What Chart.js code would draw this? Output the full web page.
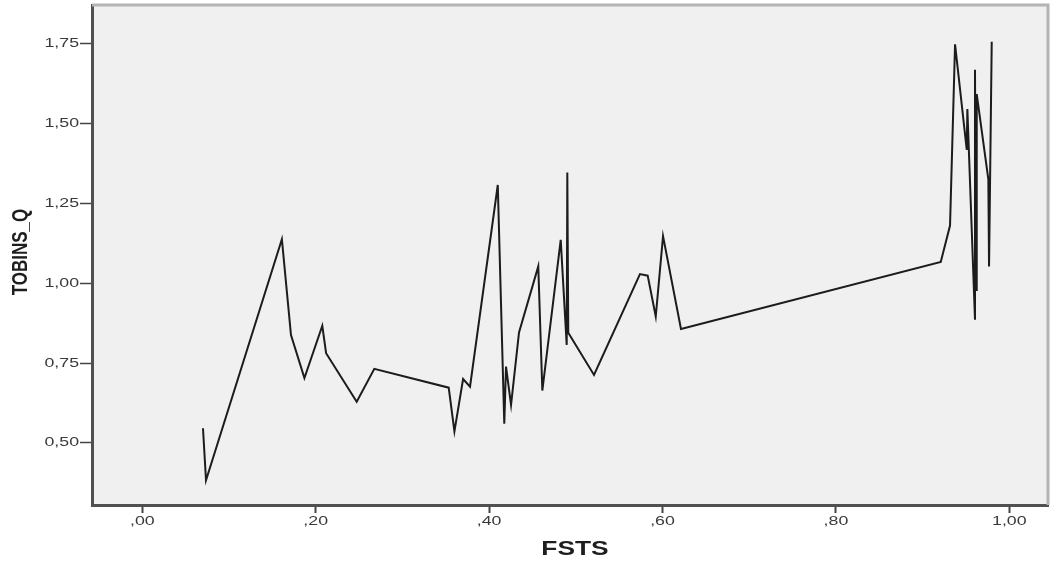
<!DOCTYPE html>
<html lang="en">
<head>
    <meta charset="UTF-8">
    <title>TOBINS_Q by FSTS</title>
    <script src="https://cdn.jsdelivr.net/npm/chart.js"></script>
    <style>
        html, body { margin: 0; padding: 0; background: #fff; }
        .chart-container { width: 1050px; height: 563px; }
    </style>
</head>
<body>
    <div class="chart-container">
        <canvas id="lineChart"></canvas>
    </div>

    <script>
        // values
        const fsts = [0.070, 0.0735, 0.161, 0.1715, 0.187, 0.2076, 0.212, 0.2473, 0.2676, 0.3534,
                      0.360, 0.370, 0.378, 0.410, 0.4175, 0.4195, 0.4253, 0.4345, 0.4567, 0.4614,
                      0.4826, 0.4895, 0.4902, 0.4913, 0.521, 0.574, 0.5829, 0.5922, 0.6006, 0.6213,
                      0.9209, 0.9316, 0.9374, 0.9509, 0.9516, 0.9604, 0.9604, 0.9616, 0.9624, 0.9758,
                      0.9766, 0.9797];
        const tobinsQ = [0.546, 0.383, 1.138, 0.838, 0.703, 0.867, 0.781, 0.629, 0.732, 0.673,
                         0.536, 0.700, 0.676, 1.308, 0.560, 0.739, 0.619, 0.846, 1.053, 0.664,
                         1.136, 0.807, 1.347, 0.845, 0.713, 1.029, 1.024, 0.896, 1.148, 0.857,
                         1.067, 1.181, 1.749, 1.418, 1.546, 0.886, 1.669, 0.979, 1.593, 1.326,
                         1.053, 1.757];
        const xTicks = [0, 0.2, 0.4, 0.6, 0.8, 1.0];
        const yTicks = [0.5, 0.75, 1.0, 1.25, 1.5, 1.75];

        const points = fsts.map((x, i) => ({ x: x, y: tobinsQ[i] }));

        function commaLabel(v, leadingZero) {
            const s = v.toFixed(2).replace('.', ',');
            return (!leadingZero && s.startsWith('0')) ? s.slice(1) : s;
        }

        // the SPSS export is stretched sideways, so text is drawn with a horizontal scale
        function wideText(ctx, text, x, y, sx, align) {
            ctx.save();
            ctx.translate(x, y);
            ctx.scale(sx, 1);
            ctx.textAlign = align;
            ctx.fillText(text, 0, 0);
            ctx.restore();
        }

        const plotFrame = {
            id: 'plotFrame',
            beforeDraw(chart) {
                const { ctx, chartArea: a } = chart;
                ctx.save();
                ctx.fillStyle = '#f0f0f0';
                ctx.fillRect(a.left, a.top, a.right - a.left, a.bottom - a.top);
                ctx.restore();
            },
            afterDraw(chart) {
                const { ctx, chartArea: a } = chart;
                const xs = chart.scales.x, ys = chart.scales.y;
                ctx.save();
                ctx.strokeStyle = '#b4b4b4';
                ctx.lineWidth = 3;
                ctx.beginPath();
                ctx.moveTo(a.left, a.top);
                ctx.lineTo(a.right, a.top);
                ctx.lineTo(a.right, a.bottom);
                ctx.stroke();

                ctx.fillStyle = '#3a3a3a';
                ctx.font = '12.5px "Liberation Sans", Arial, sans-serif';
                ctx.textBaseline = 'middle';
                xTicks.forEach(v => {
                    wideText(ctx, commaLabel(v, false), xs.getPixelForValue(v), 522, 1.42, 'center');
                });
                yTicks.forEach(v => {
                    wideText(ctx, commaLabel(v, true), 79, ys.getPixelForValue(v), 1.42, 'right');
                });

                ctx.fillStyle = '#1e1e1e';
                ctx.font = 'bold 19.5px "Liberation Sans", Arial, sans-serif';
                wideText(ctx, 'FSTS', 575, 550, 1.35, 'center');

                ctx.translate(21, 252);
                ctx.rotate(-Math.PI / 2);
                ctx.scale(1, 1.35);
                ctx.font = 'bold 17px "Liberation Sans", Arial, sans-serif';
                ctx.textAlign = 'center';
                ctx.fillText('TOBINS_Q', 0, 0);
                ctx.restore();
            }
        };

        new Chart(document.getElementById('lineChart'), {
            type: 'line',
            data: {
                datasets: [{
                    data: points,
                    borderColor: '#1c1c1c',
                    borderWidth: 2,
                    pointRadius: 0,
                    tension: 0,
                    fill: false
                }]
            },
            options: {
                responsive: true,
                maintainAspectRatio: false,
                animation: false,
                layout: { padding: { top: 5, right: 2, left: 0, bottom: 0 } },
                plugins: { legend: { display: false }, tooltip: { enabled: false } },
                scales: {
                    x: {
                        type: 'linear',
                        min: -0.058,
                        max: 1.0446,
                        afterBuildTicks: s => { s.ticks = xTicks.map(v => ({ value: v })); },
                        afterFit: s => { s.height = 58; },
                        grid: { drawOnChartArea: false, drawTicks: true, tickLength: 8, tickWidth: 2, color: '#444' },
                        border: { display: true, color: '#505050', width: 3 },
                        ticks: { display: false, padding: 0 }
                    },
                    y: {
                        min: 0.3054,
                        max: 1.872,
                        afterBuildTicks: s => { s.ticks = yTicks.map(v => ({ value: v })); },
                        afterFit: s => { s.width = 92; },
                        grid: { drawOnChartArea: false, drawTicks: true, tickLength: 12, tickWidth: 1.5, color: '#444' },
                        border: { display: true, color: '#505050', width: 3 },
                        ticks: { display: false, padding: 0 }
                    }
                }
            },
            plugins: [plotFrame]
        });
    </script>
</body>
</html>
